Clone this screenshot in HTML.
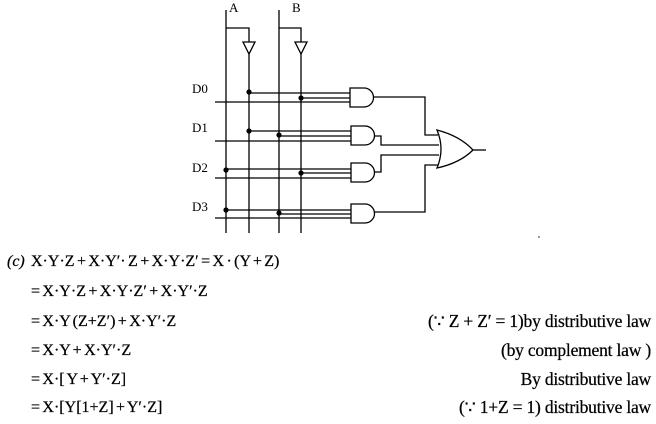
<!DOCTYPE html>
<html><head><meta charset="utf-8"><style>
html,body{margin:0;padding:0;background:#fff;}
svg{display:block}
text{font-family:"Liberation Serif",serif;fill:#000}
</style></head><body>
<svg width="656" height="424" viewBox="0 0 656 424" xmlns="http://www.w3.org/2000/svg">
<g stroke="#000" stroke-width="1.3" fill="none">
<line x1="226" y1="10" x2="226" y2="233"/>
<line x1="249" y1="54" x2="249" y2="233"/>
<line x1="279" y1="10" x2="279" y2="233"/>
<line x1="301" y1="54" x2="301" y2="233"/>
<polyline points="226,28 249,28 249,42"/>
<polyline points="279,28 301,28 301,42"/>
<polygon points="243,42 255,42 249,54"/>
<polygon points="295,42 307,42 301,54"/>
<line x1="249" y1="93" x2="350" y2="93"/>
<line x1="301" y1="98" x2="350" y2="98"/>
<line x1="215" y1="102" x2="350" y2="102"/>
<path d="M350,88 H364 A9.5,9.5 0 0 1 364,107 H350 Z"/>
<line x1="249" y1="131" x2="351" y2="131"/>
<line x1="279" y1="136" x2="351" y2="136"/>
<line x1="215" y1="141" x2="351" y2="141"/>
<path d="M351,126 H365 A9.5,9.5 0 0 1 365,145 H351 Z"/>
<line x1="226" y1="169" x2="351" y2="169"/>
<line x1="301" y1="173" x2="351" y2="173"/>
<line x1="215" y1="178" x2="351" y2="178"/>
<path d="M351,163 H365 A9.5,9.5 0 0 1 365,182 H351 Z"/>
<line x1="226" y1="210" x2="351" y2="210"/>
<line x1="279" y1="214" x2="351" y2="214"/>
<line x1="215" y1="218" x2="351" y2="218"/>
<path d="M351,204 H365 A9.5,9.5 0 0 1 365,223 H351 Z"/>
<polyline points="374,97 425,97 425,135 438,135"/>
<polyline points="374,136 381,136 381,145 439,145"/>
<polyline points="374,172 381,172 381,155 439,155"/>
<polyline points="374,212 425,212 425,165 438,165"/>
<path d="M437,130 Q445,149 437,168 Q460,163 473,150 Q460,136 437,130 Z"/>
<line x1="473" y1="150" x2="486" y2="150"/>
</g>
<g fill="#000">
<circle cx="249" cy="92" r="2.6"/><circle cx="301" cy="98" r="2.6"/>
<circle cx="249" cy="131" r="2.6"/><circle cx="279" cy="135" r="2.6"/>
<circle cx="226" cy="170" r="2.6"/><circle cx="301" cy="173" r="2.6"/>
<circle cx="226" cy="210" r="2.6"/><circle cx="279" cy="213" r="2.6"/>
</g>
<g font-size="13">
<text x="229" y="12">A</text>
<text x="292" y="12">B</text>
<text x="192" y="93">D0</text>
<text x="192" y="132">D1</text>
<text x="192" y="172">D2</text>
<text x="192" y="211">D3</text>
</g>
<g font-size="16" word-spacing="-1.6" stroke="#000" stroke-width="0.25">
<text x="7" y="266"><tspan font-style="italic">(c)</tspan></text>
<text x="31" y="266">X·Y·Z + X·Y′· Z + X·Y·Z′ = X · (Y + Z)</text>
<text x="31" y="296">= X·Y·Z + X·Y·Z′ + X·Y′·Z</text>
<text x="31" y="326">= X·Y (Z+Z′) + X·Y′·Z</text>
<text x="31" y="355">= X·Y + X·Y′·Z</text>
<text x="31" y="384">= X·[ Y + Y′·Z]</text>
<text x="31" y="412">= X·[Y[1+Z] + Y′·Z]</text>
</g>
<g text-anchor="end" font-size="17.5" stroke="#000" stroke-width="0.25" letter-spacing="-0.2">
<text x="651" y="327">(∵ Z + Z′ = 1)by distributive law</text>
<text x="651" y="356">(by complement law )</text>
<text x="651" y="385">By distributive law</text>
<text x="651" y="413">(∵ 1+Z = 1) distributive law</text>
</g>
<circle cx="539" cy="237" r="0.7" fill="#000"/>
</svg>
</body></html>
